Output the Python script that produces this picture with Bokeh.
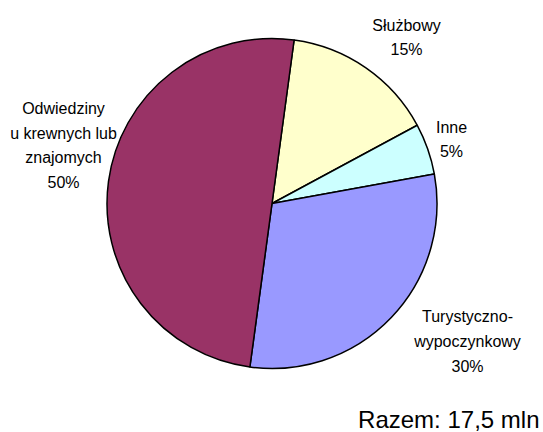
import math
from bokeh.plotting import figure
from bokeh.models import Range1d, ColumnDataSource
from bokeh.core.properties import value
from bokeh.embed import file_html
from bokeh.resources import INLINE

# ---- data ----
categories = ["Służbowy", "Inne", "Turystyczno-\nwypoczynkowy", "Odwiedziny\nu krewnych lub\nznajomych"]
shares = [15, 5, 30, 50]
colors = ["#FFFFCC", "#CCFFFF", "#9999FF", "#993366"]
total_label = "Razem: 17,5 mln"

# ---- layout (pixel coordinates of the picture) ----
W, H = 543, 432
cx, cy, r = 271.5, 203.0, 165.0
start_offset_deg = 7.7  # clockwise from 12 o'clock
label_x = [406, 451, 467, 63]
label_y = [37, 139, 341, 145]

p = figure(width=W, height=H, output_backend="svg", toolbar_location=None,
           x_range=Range1d(0, W), y_range=Range1d(-H, 0),
           min_border=0, outline_line_color=None)
p.axis.visible = False
p.grid.visible = False
p.background_fill_color = "white"

total = sum(shares)
starts, ends = [], []
acc = start_offset_deg
for s in shares:
    a0 = acc
    a1 = acc + s / total * 360.0
    starts.append(math.radians(90 - a0))
    ends.append(math.radians(90 - a1))
    acc = a1

src = ColumnDataSource(dict(start=starts, end=ends, color=colors))
p.wedge(x=cx, y=-cy, radius=r, start_angle="start", end_angle="end",
        direction="clock", fill_color="color", line_color="black",
        line_width=1.5, source=src)

texts = [f"{c}\n{s}%" for c, s in zip(categories, shares)]
lsrc = ColumnDataSource(dict(x=label_x, y=[-v for v in label_y], t=texts))
p.text(x="x", y="y", text="t", source=lsrc, text_align="center",
       text_baseline="middle", text_font=value("Liberation Sans"),
       text_font_size="16px", text_line_height=1.45, text_color="black")

p.text(x=[539], y=[-432.5], text=[total_label], text_align="right",
       text_baseline="bottom", text_font=value("Liberation Sans"),
       text_font_size="24px", text_color="black")

open("out.html", "w").write(file_html(p, INLINE))
